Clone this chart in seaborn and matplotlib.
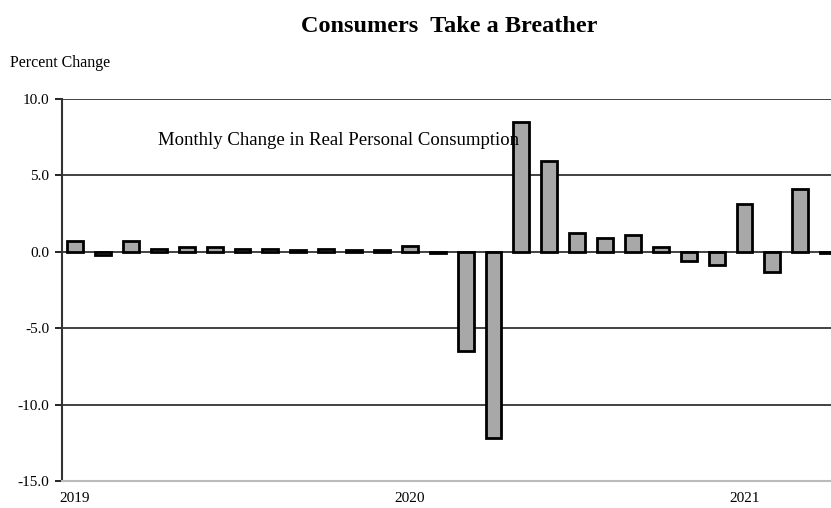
import matplotlib
matplotlib.use("Agg")
import matplotlib.pyplot as plt
import seaborn as sns
import pandas as pd
import numpy as np

# months Jan 2019 .. Apr 2021
months = pd.date_range("2019-01-01", "2021-04-01", freq="MS").strftime("%Y-%m").tolist()
pct_change = [0.7, -0.2, 0.7, 0.2, 0.3, 0.3, 0.2, 0.2, 0.1, 0.2, 0.1, 0.1,
              0.4, -0.1, -6.5, -12.2, 8.5, 5.9, 1.2, 0.9, 1.1, 0.3, -0.6, -0.9,
              3.1, -1.3, 4.1, -0.1]
year_ticks = [0, 12, 24]
year_labels = ["2019", "2020", "2021"]
y_ticks = [-15, -10, -5, 0, 5, 10]

df = pd.DataFrame({"month": months, "pct": pct_change})

sns.set_style("white")
plt.rcParams["font.family"] = ["Liberation Serif", "DejaVu Serif"]
plt.rcParams["text.color"] = "black"
plt.rcParams["xtick.color"] = "black"
plt.rcParams["ytick.color"] = "black"

fig = plt.figure(figsize=(8.31, 5.08), dpi=100)
ax = fig.add_axes([0.0746, 0.0531, 0.9254, 0.7524])

# grid lines first so bars sit on top
for yv in [-10, -5, 0, 5, 10]:
    ax.axhline(yv, color="#333333", lw=1.3, zorder=1)

sns.barplot(data=df, x="month", y="pct", color="#a8a8a8", width=0.57,
            edgecolor="black", linewidth=2.0, saturation=1, ax=ax, zorder=2)

ax.set_ylim(-15, 10)
ax.set_xlim(-0.47, 27.1)
ax.set_yticks(y_ticks)
ax.set_yticklabels([f"{v:.1f}" for v in y_ticks], fontsize=11)
ax.set_xticks(year_ticks)
ax.set_xticklabels(year_labels, fontsize=11)
ax.tick_params(axis="x", length=0, pad=8)
ax.tick_params(axis="y", length=5, width=1.2, direction="out", left=True, pad=4)
ax.set_xlabel("")
ax.set_ylabel("")

for s in ["top", "right"]:
    ax.spines[s].set_visible(False)
ax.spines["left"].set_color("#333333")
ax.spines["left"].set_linewidth(1.5)
ax.spines["bottom"].set_color("#bbbbbb")
ax.spines["bottom"].set_linewidth(1.5)

ax.text(2.97, 7.3, "Monthly Change in Real Personal Consumption",
        fontsize=13.5, va="center", ha="left", zorder=3)

fig.text(0.541, 0.947, "Consumers  Take a Breather", ha="center", va="center",
         fontsize=17.5, fontweight="bold")
fig.text(0.012, 0.876, "Percent Change", ha="left", va="center", fontsize=11.5)

fig.savefig("out.png", dpi=100)
